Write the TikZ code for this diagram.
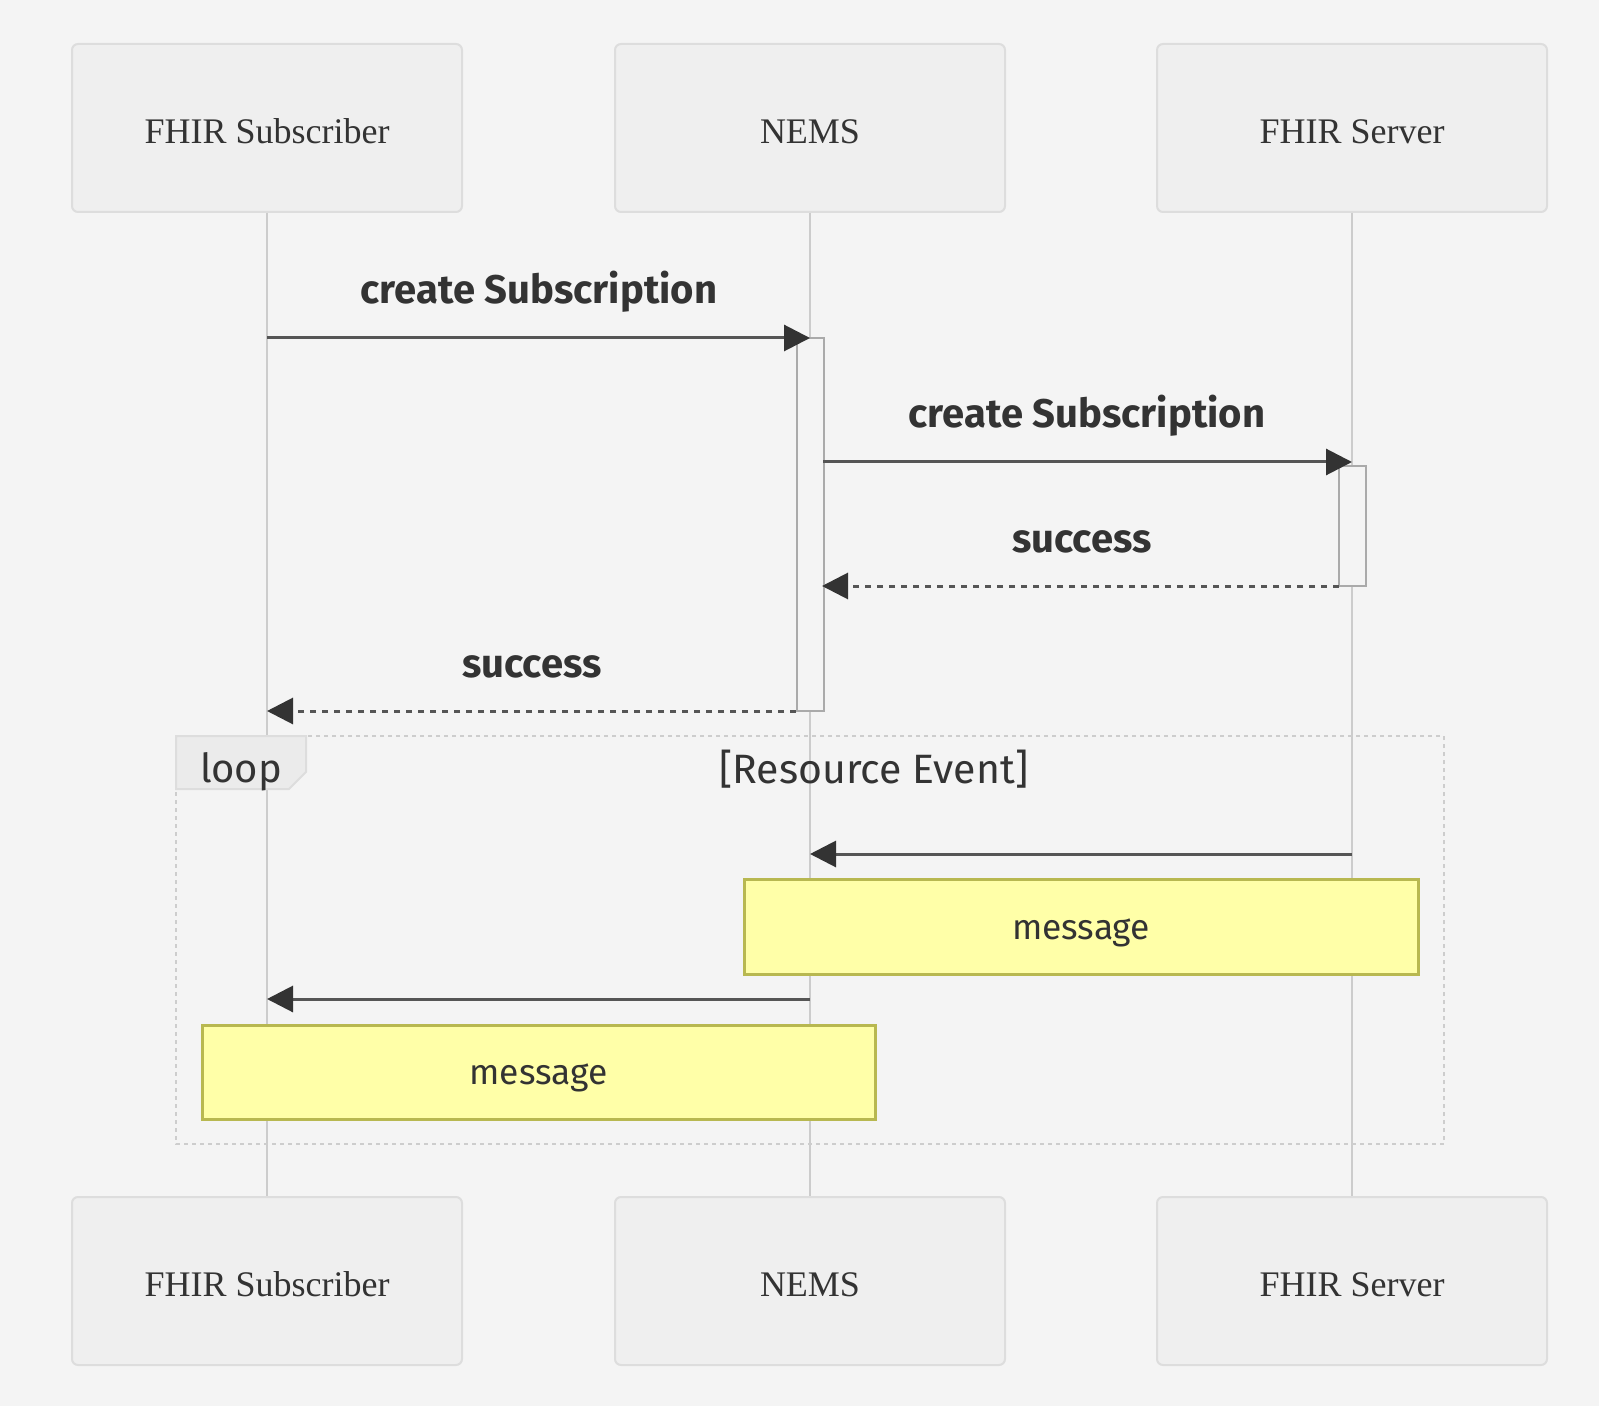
\documentclass[tikz,border=0pt]{standalone}
\usepackage{fontspec}
\setmainfont{Liberation Serif}
\newfontfamily\msgfont{Fira Sans}
\usetikzlibrary{arrows.meta}
\definecolor{bgc}{HTML}{F4F4F4}
\definecolor{actfill}{HTML}{EFEFEF}
\definecolor{actdraw}{HTML}{DDDDDD}
\definecolor{lifec}{HTML}{CCCCCC}
\definecolor{msgc}{HTML}{555555}
\definecolor{tipc}{HTML}{333333}
\definecolor{txtc}{HTML}{333333}
\definecolor{activc}{HTML}{AAAAAA}
\definecolor{notefill}{HTML}{FFFFA8}
\definecolor{notedraw}{HTML}{B8B850}
\definecolor{loopc}{HTML}{CDCDCD}
\definecolor{tabfill}{HTML}{EBEBEB}
\tikzset{
  actor/.style={draw=actdraw, fill=actfill, line width=1pt, rounded corners=3pt,
    minimum width=195pt, minimum height=84pt, inner sep=0pt, text=txtc,
    text height=15.3pt, text depth=0pt,
    font=\fontsize{18}{20}\selectfont},
  lifeline/.style={draw=lifec, line width=1pt},
  activation/.style={draw=activc, fill=bgc, line width=1pt, minimum width=13.5pt, inner sep=0pt},
  msg/.style={draw=msgc, line width=1.5pt, -{Triangle[length=13pt,width=13pt,color=tipc]}},
  reply/.style={msg, dash pattern=on 3pt off 3pt},
  msglabel/.style={text=txtc, inner sep=0pt, anchor=base, font=\msgfont\bfseries\fontsize{20}{22}\selectfont},
  note/.style={draw=notedraw, fill=notefill, line width=1.5pt, inner sep=0pt, text=txtc,
    text height=12.8pt, text depth=0pt,
    font=\msgfont\fontsize{17.7}{20}\selectfont},
  looplabel/.style={text=txtc, inner sep=0pt, anchor=base, font=\msgfont\fontsize{20}{22}\selectfont},
}
\begin{document}
\begin{tikzpicture}[x=0.5pt,y=-0.5pt]
\fill[bgc] (0,0) rectangle (1599,1406);
\useasboundingbox (0,0) rectangle (1599,1406);
% actors
\node[actor] (a1) at (267,128) {FHIR Subscriber};
\node[actor] (a2) at (810,128) {NEMS};
\node[actor] (a3) at (1352,128) {FHIR Server};
\node[actor] (b1) at (267,1281) {FHIR Subscriber};
\node[actor] (b2) at (810,1281) {NEMS};
\node[actor] (b3) at (1352,1281) {FHIR Server};
% lifelines
\draw[lifeline] (a1.south) -- (b1.north);
\draw[lifeline] (a2.south) -- (b2.north);
\draw[lifeline] (a3.south) -- (b3.north);
% loop frame
\draw[loopc, line width=1pt, dash pattern=on 2pt off 2pt] (176,736) rectangle (1444,1144);
\path[fill=tabfill, draw=actdraw, line width=1pt] (176,736) -- (306,736) -- (306,772) -- (289,789) -- (176,789) -- cycle;
\node[looplabel] (lp) at (241,782) {loop};
\node[looplabel, font=\msgfont\fontsize{20.5}{22}\selectfont] (cond) at (874,783) {[Resource Event]};
% activations
\node[activation, minimum height=186.5pt] (act1) at (810,524.5) {};
\node[activation, minimum height=60pt] (act2) at (1352,526) {};
% message coordinates
\coordinate (m1s) at (267,338);  \coordinate (m1e) at (810,338);
\coordinate (m2s) at (823,462);  \coordinate (m2e) at (1352,462);
\coordinate (m3s) at (1339,586); \coordinate (m3e) at (822,586);
\coordinate (m4s) at (796,711);  \coordinate (m4e) at (267,711);
\coordinate (m5s) at (1352,854); \coordinate (m5e) at (810,854);
\coordinate (m6s) at (810,999);  \coordinate (m6e) at (267,999);
\draw[msg] (m1s) -- (m1e);
\draw[msg] (m2s) -- (m2e);
\draw[reply] (m3s) -- (m3e);
\draw[reply] (m4s) -- (m4e);
\draw[msg] (m5s) -- (m5e);
\draw[msg] (m6s) -- (m6e);
% labels
\node[msglabel] (l1) at (539,304) {create Subscription};
\node[msglabel] (l2) at (1087,428) {create Subscription};
\node[msglabel] (l3) at (1082,552) {success};
\node[msglabel] (l4) at (532,677) {success};
% notes
\node[note, minimum width=337pt, minimum height=47.5pt] (n1) at (1081,926.5) {message};
\node[note, minimum width=336.5pt, minimum height=47pt] (n2) at (538.5,1072) {message};
\end{tikzpicture}
\end{document}
